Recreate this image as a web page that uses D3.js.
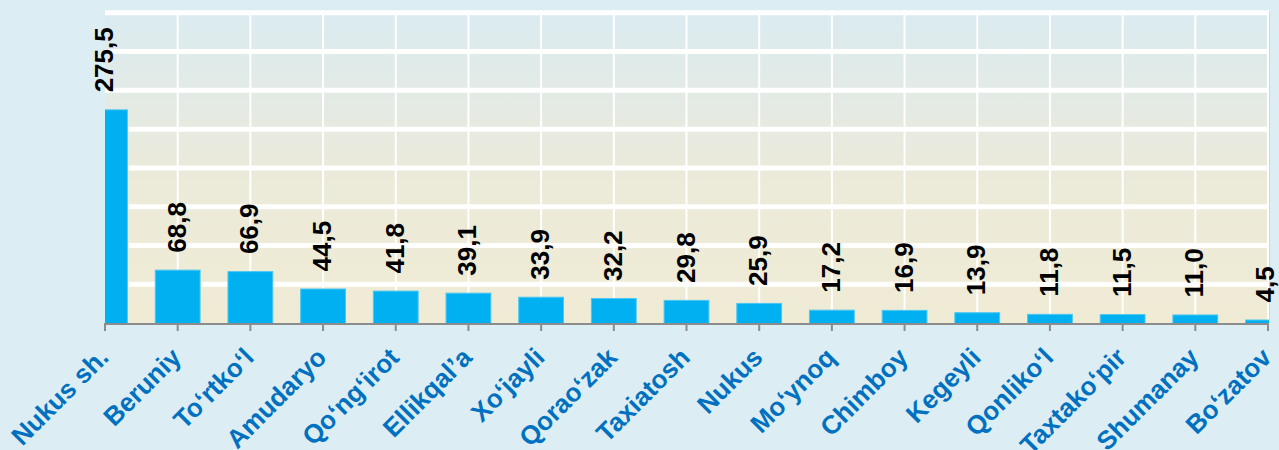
<!DOCTYPE html>
<html>
<head>
<meta charset="utf-8">
<script src="https://cdn.jsdelivr.net/npm/d3@7"></script>
<style>
  html, body { margin: 0; padding: 0; background: #DCEDF3; }
  svg { display: block; }
</style>
</head>
<body>
<div id="chart"></div>
<script>
const categories = ["Nukus sh.", "Beruniy", "To‘rtko‘l", "Amudaryo", "Qo‘ng‘irot", "Ellikqal’a", "Xo‘jayli", "Qorao‘zak", "Taxiatosh", "Nukus", "Mo‘ynoq", "Chimboy", "Kegeyli", "Qonliko‘l", "Taxtako‘pir", "Shumanay", "Bo‘zatov"];
const values = [275.5, 68.8, 66.9, 44.5, 41.8, 39.1, 33.9, 32.2, 29.8, 25.9, 17.2, 16.9, 13.9, 11.8, 11.5, 11.0, 4.5];
const valueLabels = ["275,5", "68,8", "66,9", "44,5", "41,8", "39,1", "33,9", "32,2", "29,8", "25,9", "17,2", "16,9", "13,9", "11,8", "11,5", "11,0", "4,5"];
const yTicks = [0, 50, 100, 150, 200, 250, 300, 350, 400];

const W = 1279, H = 450;
const plotLeft = 105, plotRight = 1269, plotTop = 10, plotBottom = 323;
const firstCenter = 105, lastCenter = 1268;
const step = (lastCenter - firstCenter) / (categories.length - 1);

const svg = d3.select("#chart").append("svg").attr("width", W).attr("height", H);
svg.append("rect").attr("width", W).attr("height", H).attr("fill", "#DCEDF3");

const defs = svg.append("defs");
const grad = defs.append("linearGradient").attr("id", "bg").attr("x1", 0).attr("y1", 0).attr("x2", 0).attr("y2", 1);
grad.append("stop").attr("offset", "0%").attr("stop-color", "#DAEBF1");
grad.append("stop").attr("offset", "55%").attr("stop-color", "#ECEAD9");
grad.append("stop").attr("offset", "100%").attr("stop-color", "#EFEBD5");
defs.append("clipPath").attr("id", "clip").append("rect")
  .attr("x", plotLeft).attr("y", plotTop).attr("width", plotRight - plotLeft).attr("height", plotBottom - plotTop);

const x = d3.scaleBand().domain(categories)
  .range([firstCenter - step / 2, lastCenter + step / 2])
  .paddingInner(0.37).paddingOuter(0.185);
const y = d3.scaleLinear().domain([0, 400]).range([plotBottom, 12.8]);
const cx = d => x(d) + x.bandwidth() / 2;

// plot background
svg.append("rect").attr("x", plotLeft).attr("y", plotTop)
  .attr("width", plotRight - plotLeft).attr("height", plotBottom - plotTop)
  .attr("fill", "url(#bg)");
// right edge shadow
svg.append("rect").attr("x", plotRight - 1).attr("y", plotTop + 2)
  .attr("width", 2).attr("height", plotBottom - plotTop - 2).attr("fill", "#C9DCE2");

const g = svg.append("g").attr("clip-path", "url(#clip)");

// horizontal grid
g.selectAll("line.hg").data(yTicks.filter(t => t > 0)).join("line")
  .attr("class", "hg")
  .attr("x1", plotLeft).attr("x2", plotRight - 1)
  .attr("y1", d => y(d)).attr("y2", d => y(d))
  .attr("stroke", "#FFFFFF").attr("stroke-width", 5);
// vertical grid
g.selectAll("line.vg").data(categories.slice(1)).join("line")
  .attr("class", "vg")
  .attr("x1", d => cx(d)).attr("x2", d => cx(d))
  .attr("y1", plotTop).attr("y2", plotBottom)
  .attr("stroke", "#FFFFFF").attr("stroke-width", 2);

// bars
g.selectAll("rect.bar").data(categories).join("rect")
  .attr("class", "bar")
  .attr("x", d => x(d) + 0.5)
  .attr("width", x.bandwidth() - 1)
  .attr("y", (d, i) => y(values[i]) + 0.5)
  .attr("height", (d, i) => plotBottom - y(values[i]))
  .attr("fill", "#00B0F0")
  .attr("stroke", "#4CC6F3").attr("stroke-width", 1);

// x axis
const axis = svg.append("g").attr("transform", `translate(0,${plotBottom + 1})`)
  .call(d3.axisBottom(x).tickSize(7).tickFormat(""));
axis.select(".domain").remove();
axis.selectAll(".tick line").attr("stroke", "#8C8C8C").attr("stroke-width", 2);
svg.append("line").attr("x1", plotLeft - 1).attr("x2", plotRight)
  .attr("y1", plotBottom + 1).attr("y2", plotBottom + 1)
  .attr("stroke", "#8C8C8C").attr("stroke-width", 2);

// value labels
svg.selectAll("text.val").data(categories).join("text")
  .attr("class", "val")
  .attr("transform", (d, i) => `translate(${Math.min(cx(d) + 8, W - 5)},${y(values[i]) - 17}) rotate(-90)`)
  .attr("text-anchor", "start")
  .attr("font-family", "Liberation Sans, Arial, sans-serif")
  .attr("font-weight", "bold")
  .attr("font-size", 26)
  .attr("fill", "#000")
  .text((d, i) => valueLabels[i]);

// category labels
svg.selectAll("text.cat").data(categories).join("text")
  .attr("class", "cat")
  .attr("transform", d => `translate(${cx(d) + 5},${plotBottom + 36}) rotate(-45)`)
  .attr("text-anchor", "end")
  .attr("font-family", "Liberation Sans, Arial, sans-serif")
  .attr("font-weight", "bold")
  .attr("font-size", 26)
  .attr("fill", "#0070C0")
  .text(d => d);
</script>
</body>
</html>
